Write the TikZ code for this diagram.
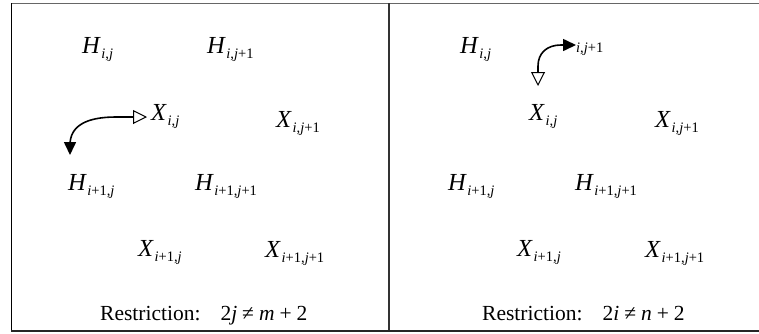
\documentclass[tikz,border=0pt]{standalone}
\usepackage{fontspec}
\setmainfont{Liberation Serif}
\usetikzlibrary{arrows.meta}
\newcommand{\mysubsz}{\fontsize{14.5}{14.5}\selectfont}
\newcommand{\mysub}[1]{\kern1.5pt\raisebox{-5pt}{\mysubsz #1}}
\newcommand{\vv}[2]{{\itshape #1}\mysub{#2}}
\newcommand{\myi}{\textit{i}}
\newcommand{\myj}{\textit{j}}
\newcommand{\tsp}{\kern5pt}
\begin{document}
\begin{tikzpicture}[x=1pt,y=-1pt,
  lbl/.style={anchor=base west, inner sep=0pt, font=\fontsize{24.5}{29}\selectfont},
  rlbl/.style={anchor=base west, inner sep=0pt, font=\fontsize{21.5}{25}\selectfont},
  sublbl/.style={anchor=base west, inner sep=0pt, font=\mysubsz},
  curvearrow/.style={line width=1.6pt, {Triangle[open, length=14pt, width=14pt, line width=1pt]}-{Triangle[length=13pt, width=12pt]}}]
\useasboundingbox (0,0) rectangle (759,333);
% frame
\draw[black!60, line width=1.5pt] (11,3.5) -- (759,3.5);
\draw[black, line width=1.5pt] (11.5,3) -- (11.5,330.5);
\draw[black!85, line width=2pt] (11,330.5) -- (759,330.5);
\draw[black!80, line width=2.5pt] (389,3) -- (389,330);
% left panel
\node[lbl] (lh1) at (82,53) {\vv{H}{\myi,\myj}};
\node[lbl] (lh2) at (207,53) {\vv{H}{\myi,\myj+1}};
\node[lbl] (lx1) at (151,120) {\vv{X}{\myi,\myj}};
\node[lbl] (lx2) at (276,127) {\vv{X}{\myi,\myj+1}};
\node[lbl] (lh3) at (68,190) {\vv{H}{\myi+1,\myj}};
\node[lbl] (lh4) at (195,190) {\vv{H}{\myi+1,\myj+1}};
\node[lbl] (lx3) at (138,256) {\vv{X}{\myi+1,\myj}};
\node[lbl] (lx4) at (265,257) {\vv{X}{\myi+1,\myj+1}};
\node[rlbl] (lr) at (100,320) {Restriction:\hspace{20pt}2\textit{j}\tsp\char"2260\tsp\textit{m}\tsp+\tsp2};
\coordinate (la) at (147,117);
\coordinate (lb) at (70,155);
\draw[curvearrow] (la) -- (116,117) .. controls (86,117) and (70,126) .. (70,145) -- (lb);
% right panel
\node[lbl] (rh1) at (460,53) {\vv{H}{\myi,\myj}};
\node[sublbl] (rt) at (576,52) {\myi,\myj+1};
\node[lbl] (rx1) at (529,120) {\vv{X}{\myi,\myj}};
\node[lbl] (rx2) at (655,127) {\vv{X}{\myi,\myj+1}};
\node[lbl] (rh3) at (448,190) {\vv{H}{\myi+1,\myj}};
\node[lbl] (rh4) at (575,190) {\vv{H}{\myi+1,\myj+1}};
\node[lbl] (rx3) at (517,256) {\vv{X}{\myi+1,\myj}};
\node[lbl] (rx4) at (645,257) {\vv{X}{\myi+1,\myj+1}};
\node[rlbl] (rr) at (482,320) {Restriction:\hspace{20pt}2\textit{i}\tsp\char"2260\tsp\textit{n}\tsp+\tsp2};
\coordinate (ra) at (538,86);
\coordinate (rb) at (576,45);
\draw[curvearrow] (ra) -- (538,66) .. controls (538,53) and (547,45) .. (561,45) -- (rb);
\end{tikzpicture}
\end{document}
